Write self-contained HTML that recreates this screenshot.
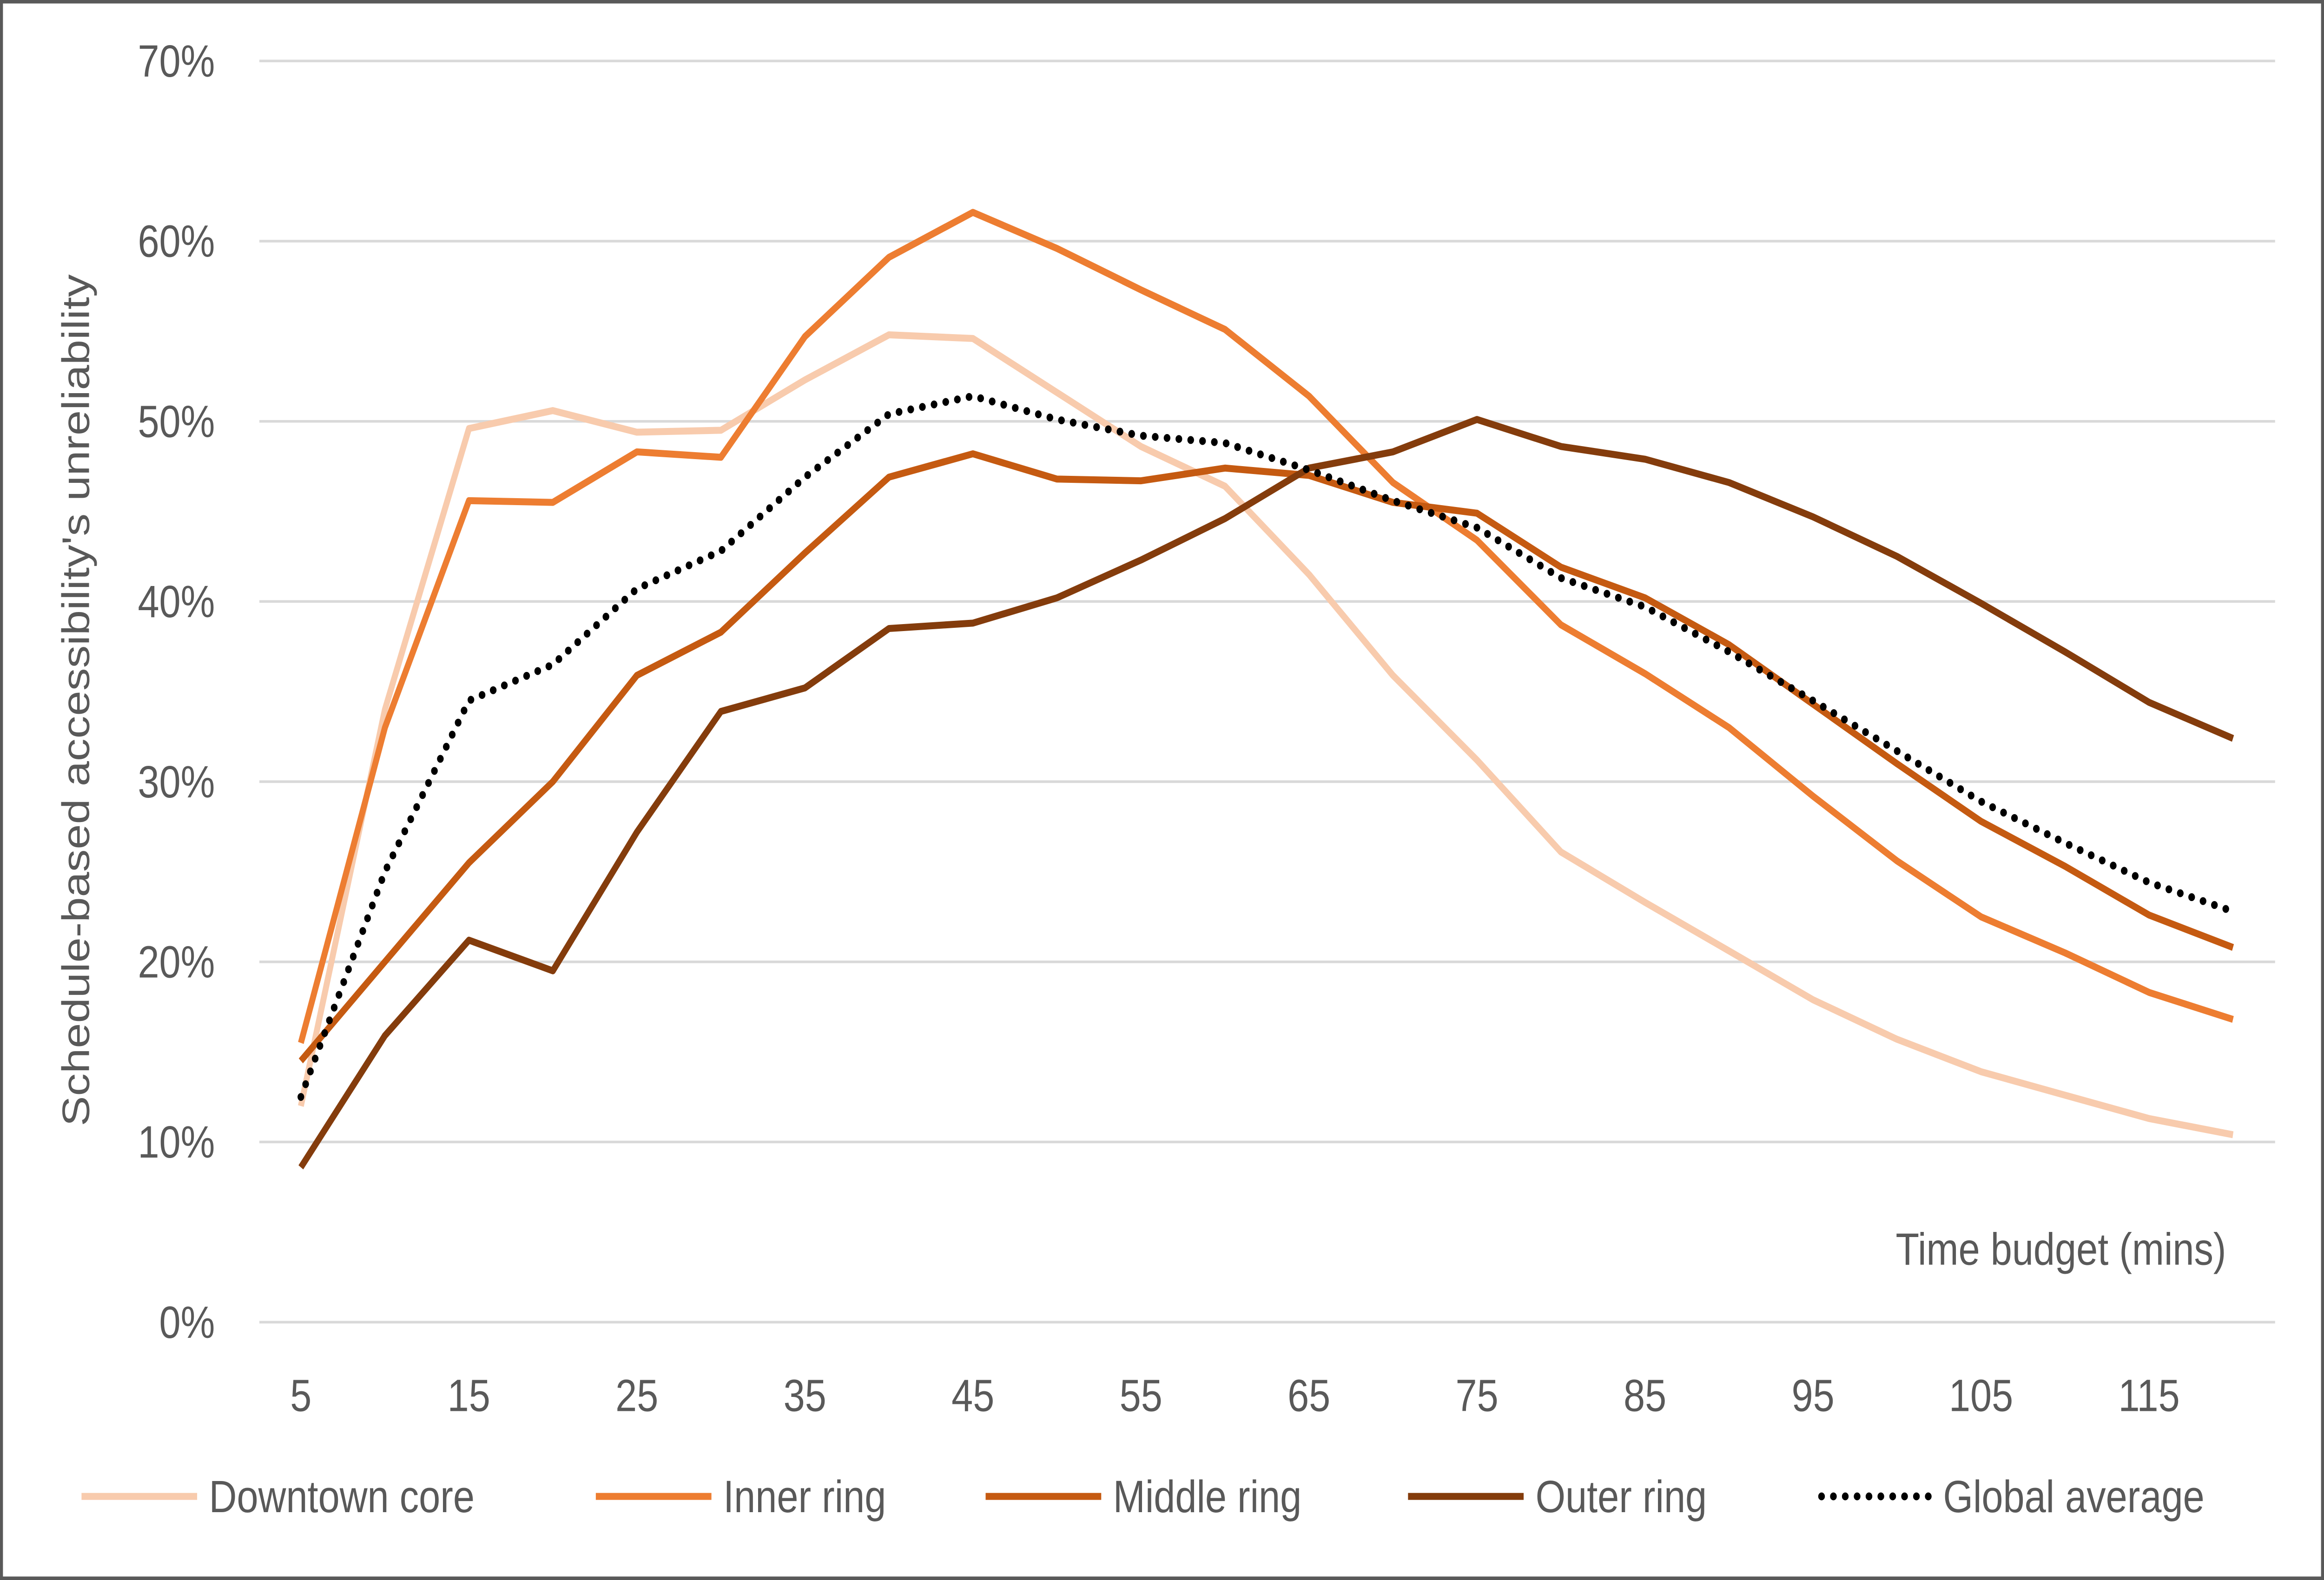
<!DOCTYPE html>
<html><head><meta charset="utf-8"><style>
html,body{margin:0;padding:0;background:#fff;width:100%;height:100%;overflow:hidden}
svg{display:block;position:absolute;left:0;top:0;width:100vw;height:100vh}
text{font-family:"Liberation Sans",sans-serif;fill:#595959}
</style></head><body>
<svg id="chart" viewBox="0 0 1568 907" preserveAspectRatio="none" xmlns="http://www.w3.org/2000/svg">
<rect x="1" y="1" width="1566" height="905" fill="#fff" stroke="#595959" stroke-width="2"/>
<g id="grid"></g>
<g id="yticks"></g>
<g id="xticks"></g>
<g id="series"></g>
<text transform="translate(60,402) rotate(-90)" text-anchor="middle" font-size="26">Schedule-based accessibility's unreliability</text>
<text x="1502" y="726" text-anchor="end" font-size="26">Time budget (mins)</text>
<g id="legend"></g>
</svg>
<script>
const times=[5,10,15,20,25,30,35,40,45,50,55,60,65,70,75,80,85,90,95,100,105,110,115,120];
const downtown=[12,34,49.6,50.6,49.4,49.5,52.3,54.8,54.6,51.6,48.6,46.4,41.5,35.9,31.2,26.1,23.3,20.6,17.9,15.7,13.9,12.6,11.3,10.4];
const inner=[15.5,33,45.6,45.5,48.3,48,54.7,59.1,61.6,59.6,57.3,55.1,51.4,46.6,43.4,38.7,36,33,29.2,25.6,22.5,20.5,18.3,16.8];
const middle=[14.5,20,25.5,30,35.9,38.3,42.7,46.9,48.2,46.8,46.7,47.4,47,45.5,44.9,41.9,40.2,37.6,34.3,31,27.8,25.3,22.6,20.8];
const outer=[8.6,15.9,21.2,19.5,27.2,33.9,35.2,38.5,38.8,40.2,42.3,44.6,47.4,48.3,50.1,48.6,47.9,46.6,44.7,42.5,39.9,37.2,34.4,32.4];
const globalAvg=[12.5,25,34.5,36.5,40.7,42.8,46.9,50.4,51.4,50.1,49.2,48.8,47.3,45.6,44.1,41.3,39.7,37.2,34.5,31.7,28.9,26.6,24.4,22.8];
const yTicks=[0,10,20,30,40,50,60,70];
const xTickLabels=[5,15,25,35,45,55,65,75,85,95,105,115];
const seriesNames=["Downtown core","Inner ring","Middle ring","Outer ring","Global average"];

const NS="http://www.w3.org/2000/svg";
const xS=t=>203+(t-5)/5*56.68;
const yS=v=>759-v*(724/70);
function mk(tag,attrs,parent){const e=document.createElementNS(NS,tag);for(const k in attrs)e.setAttribute(k,attrs[k]);parent.appendChild(e);return e;}
const grid=document.getElementById('grid'),yt=document.getElementById('yticks'),xt=document.getElementById('xticks');
yTicks.forEach(v=>{
  const l=mk('line',{x1:175,x2:1535,y1:yS(v),y2:yS(v),stroke:'#d9d9d9','stroke-width':1.5},grid);
  
  
  const t=mk('text',{x:145,y:yS(v)+9,'text-anchor':'end','font-size':26},yt);
  t.textContent=v+'%';
  
  
});
xTickLabels.forEach(v=>{
  const t=mk('text',{x:xS(v),y:810,'text-anchor':'middle','font-size':26},xt);
  t.textContent=v;
  
  
});
const colors=['#F8CBAD','#ED7D31','#C55A11','#843C0C','#000'];
const data=[downtown,inner,middle,outer,globalAvg];
const sg=document.getElementById('series');
data.forEach((d,i)=>{
  const pts=d.map((v,j)=>xS(times[j]).toFixed(1)+','+yS(v).toFixed(1)).join(' ');
  const a={points:pts,fill:'none',stroke:colors[i],'stroke-width':4,'stroke-linejoin':'round'};
  if(i===4){a['stroke-dasharray']='0 8';a['stroke-linecap']='round';a['stroke-width']=4.5;}
  const p=mk('polyline',a,sg);
  
  
});
const lg=document.getElementById('legend');
const lx=[55,402,665,950,1225];
seriesNames.forEach((n,i)=>{
  const g=mk('g',{},lg);
  
  
  const a={x1:lx[i],x2:lx[i]+78,y1:859,y2:859,stroke:colors[i],'stroke-width':4};
  if(i===4){a['stroke-dasharray']='0 8';a['stroke-linecap']='round';a['stroke-width']=4.5;a.x1=lx[i]+4;}
  mk('line',a,g);
  const t=mk('text',{x:lx[i]+86,y:868,'font-size':26},g);
  t.textContent=n;
});
</script>
</body></html>
